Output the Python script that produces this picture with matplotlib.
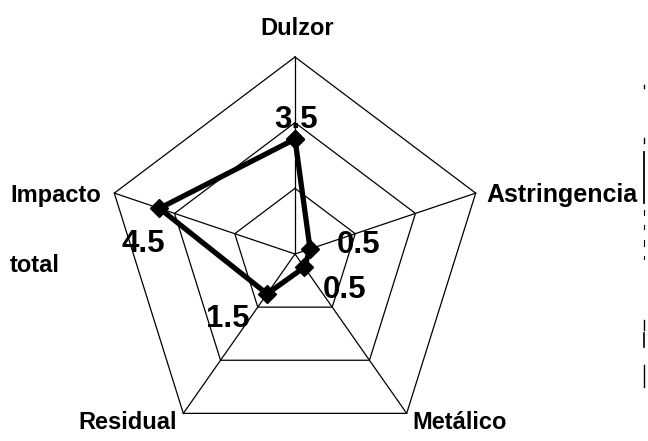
import numpy as np
import matplotlib
matplotlib.use("Agg")
import matplotlib.pyplot as plt
from matplotlib.lines import Line2D

# ---- data ----
categories = ["Dulzor", "Astringencia", "Metálico", "Residual", "Impacto total"]
values = [3.5, 0.5, 0.5, 1.5, 4.5]
value_labels = ["3.5", "0.5", "0.5", "1.5", "4.5"]
rings = [2, 4, 6]
r_max = 6

# ---- layout (pixels, from top-left) ----
W, H = 648, 441
cx, cy = 295, 254          # chart centre
sx, sy = 190, 197          # outer radius in px (horizontal / vertical)

fig = plt.figure(figsize=(W / 100, H / 100), dpi=100)
fig.patch.set_facecolor("white")
ax = fig.add_axes([0, 0, 1, 1])
ux, uy = sx / r_max, sy / r_max
ax.set_xlim(-cx / ux, (W - cx) / ux)
ax.set_ylim(-(H - cy) / uy, cy / uy)
ax.axis("off")

n = len(categories)
theta = np.arange(n) * 2 * np.pi / n   # clockwise from top
dx, dy = np.sin(theta), np.cos(theta)

# grid rings
for r in rings:
    xs = np.append(r * dx, r * dx[0])
    ys = np.append(r * dy, r * dy[0])
    ax.plot(xs, ys, color="black", lw=0.9, zorder=1)
# spokes
for i in range(n):
    ax.plot([0, r_max * dx[i]], [0, r_max * dy[i]], color="black", lw=0.9, zorder=1)

# data
v = np.array(values)
px = np.append(v * dx, v[0] * dx[0])
py = np.append(v * dy, v[0] * dy[0])
ax.plot(px, py, color="black", lw=3.8, marker="D", ms=9.5, zorder=3,
        solid_joinstyle="miter")

def ftext(x, y, s, **kw):
    fig.text(x / W, 1 - y / H, s, family="Liberation Sans", weight="bold",
             color="black", **kw)

# category labels
ftext(297, 35, "Dulzor", ha="center", va="baseline", fontsize=17)
ftext(486, 202, "Astringencia", ha="left", va="baseline", fontsize=18)
ftext(412, 429, "Metálico", ha="left", va="baseline", fontsize=17)
ftext(177, 429, "Residual", ha="right", va="baseline", fontsize=17)
ftext(10, 202, "Impacto", ha="left", va="baseline", fontsize=17)
ftext(10, 272, "total", ha="left", va="baseline", fontsize=17)

# value labels
label_pos = [(296, 128), (359, 253), (345, 298), (228, 327), (143, 252)]
for (x, y), s in zip(label_pos, value_labels):
    ftext(x, y, s, ha="center", va="baseline", fontsize=22.5)

# scan artefact line on the right edge
for y0, y1, lw in [(85, 88, 1), (138, 143, 1), (152, 203, 1.3), (210, 215, 0.8),
                   (225, 229, 0.8), (240, 246, 0.8), (256, 259, 0.8),
                   (320, 330, 1), (333, 347, 1.2), (365, 387, 1)]:
    fig.add_artist(Line2D([644 / W, 644 / W], [1 - y0 / H, 1 - y1 / H],
                          color="black", lw=lw))

fig.savefig("out.png", dpi=100, facecolor="white")
